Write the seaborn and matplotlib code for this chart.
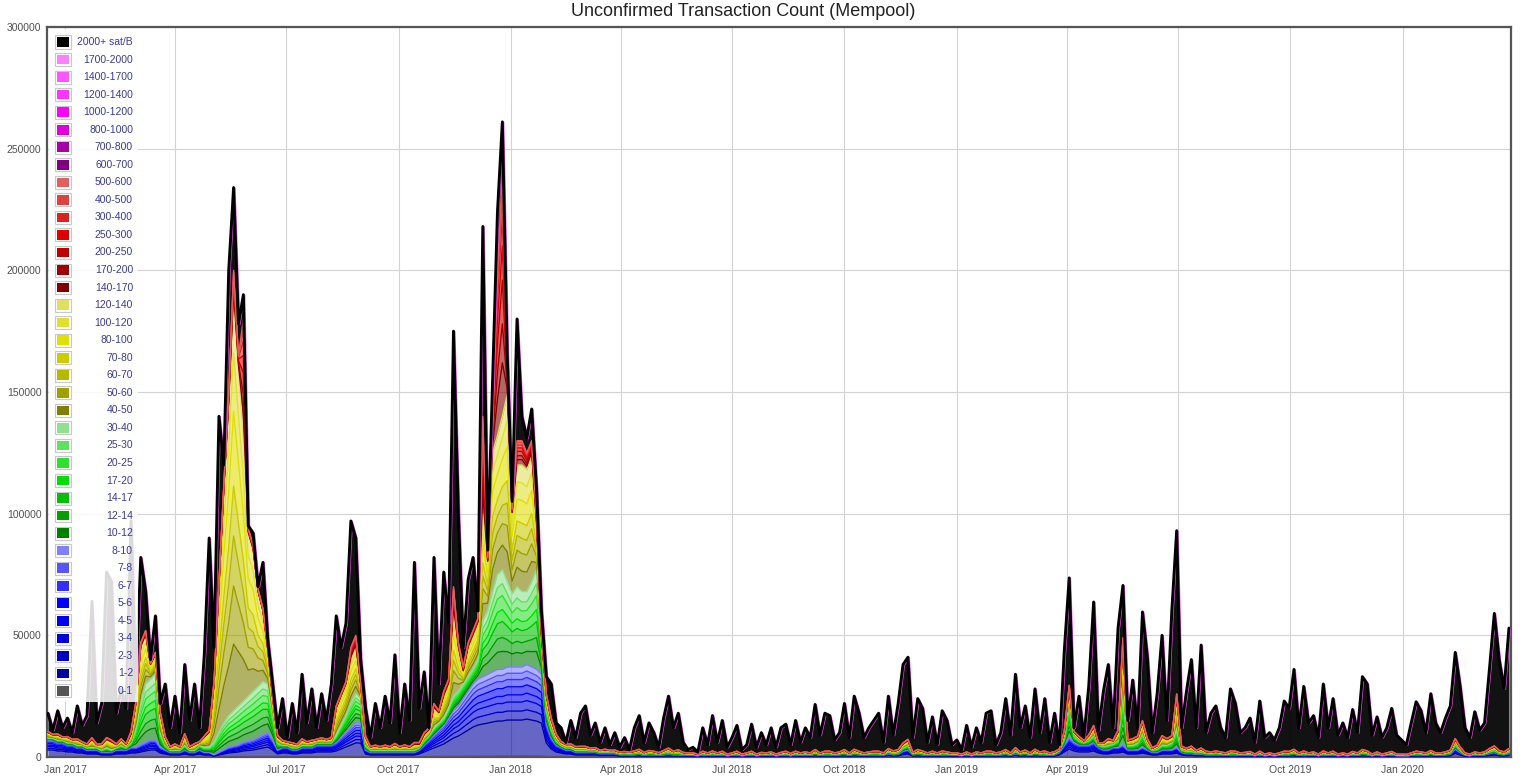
import numpy as np
import pandas as pd
import matplotlib
matplotlib.use('Agg')
import matplotlib.pyplot as plt
import matplotlib.dates as mdates
import matplotlib.transforms as mtransforms
from matplotlib.patches import Rectangle
from matplotlib.ticker import FuncFormatter
import seaborn as sns

# one sample every 4 days, values in thousands of unconfirmed transactions
dates = pd.date_range('2016-12-18', periods=300, freq='4D')

total_k = [18, 11, 19, 12, 16, 10, 21, 13, 17, 64,
           14, 22, 76, 72, 18, 28, 20, 97, 30, 82,
           68, 40, 58, 22, 30, 12, 25, 10, 38, 15,
           30, 12, 42, 90, 45, 140, 120, 200, 234, 178,
           190, 95, 92, 70, 80, 48, 30, 12, 24, 8,
           22, 10, 34, 14, 28, 12, 26, 15, 30, 58,
           45, 55, 97, 90, 40, 20, 8, 22, 12, 25,
           14, 42, 10, 30, 15, 80, 20, 35, 12, 82,
           30, 76, 55, 175, 100, 45, 73, 82, 60, 218,
           85, 154, 224, 261, 165, 105, 180, 140, 131, 143,
           110, 60, 33, 30, 14, 12, 6, 15, 8, 18,
           21, 9, 14, 6, 12, 5, 10, 4, 8, 3,
           12, 17, 6, 14, 10, 4, 16, 25, 12, 18,
           6, 3, 4, 2, 12, 5, 17, 6, 15, 4,
           8, 13, 3, 5, 13.5, 4, 10, 5, 12, 4,
           12, 13.5, 5, 15, 6, 12, 8, 21.6, 9, 18,
           17, 7, 10, 22, 8, 25, 18, 8, 12, 15,
           18, 6, 25, 9, 22, 38, 41, 8, 24, 20,
           6, 16.5, 5, 19, 15, 5, 7, 3, 13, 4,
           12, 6, 18, 19, 5, 10, 24, 9, 34, 12,
           21, 8, 28, 10, 24, 6, 18, 5, 43.6, 73.6,
           12, 25, 8, 29, 63.7, 11, 27, 38, 12, 53,
           70.5, 15, 31.6, 12, 59.6, 41, 10, 26, 50, 15,
           60, 93, 12, 27, 40, 12, 46, 10, 18, 21,
           12, 8, 28, 22, 10, 12, 16, 6, 23, 8,
           10, 7, 12, 23, 20, 36, 12, 29, 14, 17,
           8, 30, 12, 24, 9, 14, 8, 19.5, 10, 33,
           30, 9, 16.5, 8, 12, 20, 9, 7, 5, 14,
           22.7, 19, 10, 26, 14, 10, 16, 21, 43, 29,
           12, 8, 18.6, 11, 14, 36, 59, 40, 28, 53]

# thickness of the fee groups (thousands)
blue_k = [7, 7, 6, 6, 5, 5, 4, 4, 3, 3,
          3, 2, 2, 2, 3, 3, 3, 4, 4, 5,
          6, 7, 7, 4, 3, 2, 2, 2, 3, 2,
          2, 3, 2, 2, 1, 2, 3, 4, 4.5, 5,
          6, 6.5, 7, 8, 9, 10, 7, 3, 4, 4,
          3, 3, 4, 4, 4, 5, 5, 5, 5, 6,
          8, 10, 12, 14, 14, 3, 2, 2, 2, 2,
          2, 2, 2, 2, 2, 2, 3, 5, 7, 9,
          11, 13, 16, 19, 21, 24, 27, 30, 32, 33,
          34, 35, 36, 36, 37, 37, 37, 37, 38, 37,
          36, 34, 14, 8, 5, 4, 3, 3, 2, 2,
          2, 2, 2, 1.5, 1.5, 1.5, 1.5, 1, 1, 1,
          1, 1.2, 0.8, 1, 1, 0.8, 1, 1.2, 1, 1,
          0.8, 0.8, 0.8, 0.6, 1, 0.8, 1, 0.8, 1, 0.6,
          0.8, 1, 0.6, 0.8, 1, 0.6, 0.8, 0.8, 1, 0.6,
          0.8, 1, 0.6, 1, 0.8, 1, 0.8, 1.2, 0.8, 1,
          1, 0.8, 1, 1.2, 0.8, 1.2, 1, 0.8, 1, 1,
          1, 0.8, 1.5, 1, 1.2, 2.5, 3, 1, 1.2, 1,
          0.8, 1, 0.8, 1, 1, 0.8, 0.8, 0.6, 1, 0.6,
          1, 0.8, 1, 1, 0.8, 1, 1.2, 0.8, 1.5, 1,
          1.2, 0.8, 1.2, 1, 1, 0.8, 1, 2, 5, 8,
          6, 5, 5, 5, 6, 4, 3, 3, 4, 4,
          5, 3, 3, 3, 4, 3, 2, 2, 3, 3,
          3, 4, 2, 1.5, 1.5, 1.2, 1.2, 1, 1, 1,
          1, 0.8, 1, 1, 0.8, 0.8, 1, 0.6, 1, 0.6,
          0.8, 0.6, 0.8, 1, 1, 1.2, 0.8, 1, 0.8, 1,
          0.6, 1, 0.8, 1, 0.6, 0.8, 0.6, 1, 0.8, 1.2,
          1, 0.6, 1, 0.6, 0.8, 1, 0.6, 0.6, 0.5, 0.8,
          1, 1, 0.8, 1.2, 0.8, 0.8, 1, 1.2, 3.5, 2,
          0.8, 0.6, 1, 0.8, 1, 1.5, 2, 1.2, 1, 1.5]

green_k = [1, 1, 1, 1, 1, 1, 1, 1, 1, 1,
           1, 1, 2, 1, 1, 2, 1, 2, 8, 17,
           24, 25, 27, 6, 2, 1, 1, 1, 2, 1,
           1, 2, 2, 2, 5, 8, 11, 13, 14.5, 16,
           17, 18.5, 20, 21, 22, 20, 11, 3, 1, 1,
           1, 1, 1, 1, 1, 1, 1, 1, 1, 3,
           5, 7, 10, 12, 10, 2, 1, 1, 1, 1,
           1, 1, 1, 1, 1, 1, 1, 2, 2, 3,
           3, 3, 4, 6, 6, 6, 6, 6, 8, 23,
           26, 33, 39, 41, 35, 30, 33, 31, 30, 35,
           41, 15, 6, 4, 2, 1, 1, 1, 1, 1,
           1, 0.8, 0.8, 0.6, 0.8, 0.6, 0.6, 0.5, 0.6, 0.5,
           0.6, 0.8, 0.5, 0.8, 0.6, 0.5, 0.8, 1, 0.6, 0.8,
           0.5, 0.4, 0.4, 0.3, 0.6, 0.4, 0.6, 0.4, 0.6, 0.3,
           0.4, 0.6, 0.3, 0.4, 0.6, 0.3, 0.5, 0.4, 0.5, 0.3,
           0.5, 0.6, 0.4, 0.6, 0.4, 0.5, 0.4, 0.8, 0.4, 0.6,
           0.6, 0.4, 0.5, 0.8, 0.4, 0.8, 0.6, 0.4, 0.5, 0.6,
           0.6, 0.4, 0.8, 0.6, 0.8, 1.5, 2, 0.5, 0.8, 0.6,
           0.4, 0.6, 0.4, 0.6, 0.5, 0.4, 0.4, 0.3, 0.5, 0.3,
           0.5, 0.4, 0.6, 0.6, 0.4, 0.5, 0.8, 0.4, 1, 0.5,
           0.8, 0.4, 0.8, 0.5, 0.6, 0.4, 0.5, 0.8, 3, 15,
           3, 2, 1, 2, 3, 1, 1.5, 2, 1.5, 3,
           22, 2, 2, 3, 6, 2, 1, 1.5, 2, 2,
           3, 8, 1, 1, 1, 0.8, 1, 0.6, 0.5, 0.6,
           0.5, 0.4, 0.6, 0.6, 0.4, 0.5, 0.5, 0.3, 0.6, 0.3,
           0.4, 0.3, 0.4, 0.6, 0.5, 0.8, 0.4, 0.6, 0.4, 0.5,
           0.3, 0.6, 0.4, 0.6, 0.3, 0.4, 0.3, 0.5, 0.4, 0.8,
           0.6, 0.3, 0.5, 0.3, 0.4, 0.5, 0.3, 0.3, 0.3, 0.4,
           0.6, 0.5, 0.4, 0.6, 0.4, 0.4, 0.5, 0.8, 2, 1,
           0.4, 0.3, 0.5, 0.4, 0.5, 0.8, 1, 0.6, 0.5, 0.8]

yellow_k = [2, 1, 2, 1, 2, 1, 2, 1, 1, 3,
            1, 2, 3, 3, 1, 2, 1, 3, 10, 23,
            20, 6, 8, 8, 3, 1, 2, 1, 4, 1,
            2, 1, 4, 6, 24, 60, 96, 128, 171, 139,
            107, 67, 58, 39, 29, 14, 6, 2, 1.5, 1,
            1.5, 1, 2, 1, 1.5, 1, 1.5, 1, 1.5, 11,
            12, 13, 18, 19, 6, 3, 1, 1.5, 1, 1.5,
            1, 2, 1, 1.5, 1, 2, 1, 2, 2, 8,
            4, 9, 10, 35, 18, 5, 12, 14, 15, 44,
            20, 57, 57, 63, 77, 33, 50, 52, 50, 52,
            18, 0, 5, 3, 2, 1, 1, 1, 1, 1,
            1, 0.6, 0.8, 0.5, 0.6, 0.5, 0.5, 0.4, 0.5, 0.3,
            0.6, 0.8, 0.4, 0.6, 0.5, 0.3, 0.6, 1, 0.5, 0.8,
            0.4, 0.3, 0.3, 0.2, 0.5, 0.3, 0.6, 0.3, 0.5, 0.2,
            0.3, 0.5, 0.2, 0.3, 0.5, 0.2, 0.4, 0.3, 0.4, 0.2,
            0.4, 0.5, 0.3, 0.5, 0.3, 0.4, 0.3, 0.7, 0.3, 0.5,
            0.5, 0.3, 0.4, 0.7, 0.3, 0.8, 0.5, 0.3, 0.4, 0.5,
            0.5, 0.3, 0.8, 0.6, 0.7, 1.2, 1.5, 0.3, 0.7, 0.6,
            0.3, 0.5, 0.3, 0.6, 0.4, 0.3, 0.3, 0.2, 0.4, 0.2,
            0.4, 0.3, 0.5, 0.5, 0.3, 0.4, 0.7, 0.3, 0.9, 0.4,
            0.6, 0.3, 0.8, 0.4, 0.6, 0.3, 0.5, 0.3, 2, 5,
            1, 1, 0.5, 1.5, 3, 0.5, 1, 2, 1, 3,
            20, 1.5, 2, 2, 4, 2, 0.5, 1, 3, 2,
            2, 12, 1, 0.8, 1.5, 0.5, 1, 0.5, 0.4, 0.6,
            0.4, 0.3, 0.6, 0.5, 0.3, 0.4, 0.5, 0.2, 0.5, 0.2,
            0.3, 0.2, 0.3, 0.5, 0.5, 0.8, 0.3, 0.6, 0.3, 0.4,
            0.2, 0.6, 0.3, 0.5, 0.2, 0.3, 0.2, 0.5, 0.3, 0.7,
            0.6, 0.2, 0.4, 0.2, 0.3, 0.5, 0.2, 0.2, 0.2, 0.3,
            0.5, 0.4, 0.3, 0.6, 0.3, 0.3, 0.4, 0.6, 1.5, 0.8,
            0.3, 0.2, 0.4, 0.3, 0.4, 0.8, 1, 0.6, 0.4, 0.8]

red_k = [0.5, 0.3, 0.5, 0.3, 0.4, 0.3, 0.5, 0.3, 0.4, 1,
         0.3, 0.5, 1, 1, 0.4, 0.5, 0.4, 1.5, 0.5, 2,
         2, 0.5, 1, 0.4, 0.5, 0.3, 0.4, 0.3, 0.6, 0.3,
         0.5, 0.3, 0.6, 1, 1, 2, 2, 5, 10, 5,
         50, 2, 2, 1, 1, 1, 1, 1, 0.4, 0.3,
         0.4, 0.3, 0.5, 0.3, 0.4, 0.3, 0.4, 0.3, 0.5, 1,
         1, 1, 5, 5, 1, 0.5, 0.3, 0.4, 0.3, 0.4,
         0.3, 0.6, 0.3, 0.5, 0.3, 1, 1, 1, 1, 2,
         1, 2, 2, 10, 2, 2, 2, 2, 2, 40,
         2, 15, 68, 100, 11, 2, 10, 10, 7, 6,
         5, 3, 1, 1, 0.5, 0.4, 0.3, 0.4, 0.3, 0.4,
         0.4, 0.3, 0.3, 0.2, 0.3, 0.2, 0.3, 0.2, 0.2, 0.2,
         0.3, 0.4, 0.2, 0.3, 0.3, 0.2, 0.3, 0.5, 0.3, 0.4,
         0.2, 0.2, 0.2, 0.1, 0.3, 0.2, 0.3, 0.2, 0.3, 0.1,
         0.2, 0.3, 0.1, 0.2, 0.3, 0.1, 0.2, 0.2, 0.2, 0.1,
         0.2, 0.3, 0.2, 0.3, 0.2, 0.2, 0.2, 0.4, 0.2, 0.3,
         0.3, 0.2, 0.2, 0.4, 0.2, 0.4, 0.3, 0.2, 0.2, 0.3,
         0.3, 0.2, 0.4, 0.3, 0.4, 0.6, 0.8, 0.2, 0.4, 0.3,
         0.2, 0.3, 0.2, 0.3, 0.2, 0.2, 0.2, 0.1, 0.2, 0.1,
         0.2, 0.2, 0.3, 0.3, 0.2, 0.2, 0.4, 0.2, 0.5, 0.2,
         0.3, 0.2, 0.4, 0.2, 0.3, 0.2, 0.2, 0.2, 0.8, 1.5,
         0.5, 0.5, 0.3, 0.6, 1, 0.3, 0.4, 0.6, 0.4, 1,
         2, 0.5, 0.6, 0.6, 1, 0.6, 0.3, 0.4, 0.8, 0.6,
         0.8, 2, 0.4, 0.3, 0.5, 0.3, 0.5, 0.3, 0.2, 0.3,
         0.2, 0.2, 0.3, 0.3, 0.2, 0.2, 0.3, 0.1, 0.3, 0.1,
         0.2, 0.1, 0.2, 0.3, 0.3, 0.4, 0.2, 0.3, 0.2, 0.2,
         0.1, 0.3, 0.2, 0.3, 0.1, 0.2, 0.1, 0.3, 0.2, 0.4,
         0.3, 0.1, 0.2, 0.1, 0.2, 0.3, 0.1, 0.1, 0.1, 0.2,
         0.3, 0.2, 0.2, 0.3, 0.2, 0.2, 0.2, 0.3, 0.6, 0.4,
         0.2, 0.1, 0.2, 0.2, 0.2, 0.4, 0.6, 0.3, 0.2, 0.4]

# share of each fee band inside its group
blue_split = [0.01, 0.40, 0.10, 0.10, 0.08, 0.09, 0.08, 0.07, 0.07]
green_split = [0.18, 0.14, 0.16, 0.12, 0.14, 0.12, 0.14]
yellow_split = [0.16, 0.14, 0.12, 0.12, 0.18, 0.14, 0.14]
red_split = [0.22, 0.16, 0.18, 0.14, 0.12, 0.10, 0.08]
magenta_split = [0, 0, 0, 0, 0, 0, 0]

band_labels = ['0-1', '1-2', '2-3', '3-4', '4-5', '5-6', '6-7', '7-8', '8-10',
               '10-12', '12-14', '14-17', '17-20', '20-25', '25-30', '30-40',
               '40-50', '50-60', '60-70', '70-80', '80-100', '100-120', '120-140',
               '140-170', '170-200', '200-250', '250-300', '300-400', '400-500', '500-600',
               '600-700', '700-800', '800-1000', '1000-1200', '1200-1400', '1400-1700', '1700-2000',
               '2000+ sat/B']
band_colors = ['#555555', '#0000a0', '#0000c0', '#0000dd', '#0000ee', '#0000ff', '#3030ff', '#5555ff', '#8080ff',
               '#008000', '#00a000', '#00c000', '#00e000', '#30e030', '#60e060', '#90e090',
               '#808000', '#a0a000', '#b8b800', '#cccc00', '#e0e000', '#e0e030', '#e0e060',
               '#800000', '#a00000', '#c00000', '#e00000', '#e02020', '#e04040', '#e06060',
               '#800080', '#aa00aa', '#dd00dd', '#ff00ff', '#ff33ff', '#ff55ff', '#ff80ff',
               '#000000']

for arr in (total_k, blue_k, green_k, yellow_k, red_k):
    assert len(arr) == len(dates), len(arr)

total = np.array(total_k) * 1000
groups = [(np.array(blue_k), blue_split), (np.array(green_k), green_split),
          (np.array(yellow_k), yellow_split), (np.array(red_k), red_split),
          (np.zeros(len(dates)), magenta_split)]
bands = []
for g, split in groups:
    for s in split:
        bands.append(g * s * 1000)
cum = np.minimum(np.cumsum(bands, axis=0), total)
tops = list(cum) + [total]

sns.set_style('white')
plt.rcParams['font.family'] = ['Liberation Sans', 'DejaVu Sans']

fig = plt.figure(figsize=(15.36, 7.81), dpi=100)
ax = fig.add_axes([47 / 1536, 24 / 781, 1464 / 1536, 730 / 781])

lo = np.zeros(len(dates))
for j, (hi, col) in enumerate(zip(tops, band_colors)):
    a = 0.93 if j == len(tops) - 1 else 0.6
    ax.fill_between(dates, lo, hi, color=col, alpha=a, lw=0, zorder=2)
    if j < len(tops) - 1 and np.any(hi - lo > 0):
        ax.plot(dates, hi, color=col, lw=1.0, zorder=3)
    lo = hi

shift = mtransforms.offset_copy(ax.transData, fig=fig, x=1.2, y=-0.4, units='dots')
ax.plot(dates, total, color='#ee55ee', lw=1.2, transform=shift, zorder=4)
sns.lineplot(x=dates, y=total, ax=ax, color='black', linewidth=2.1, estimator=None, zorder=5)

ax.set_xlim(pd.Timestamp('2016-12-17 06:00'), pd.Timestamp('2020-03-29 16:00'))
ax.set_ylim(0, 300000)
ax.set_yticks(np.arange(0, 300001, 50000))
ax.yaxis.set_major_formatter(FuncFormatter(lambda v, p: '%d' % v))
ax.xaxis.set_major_locator(mdates.MonthLocator(bymonth=[1, 4, 7, 10]))
ax.xaxis.set_major_formatter(mdates.DateFormatter('%b %Y'))
ax.grid(True, color='#d3d3d3', lw=0.8, zorder=0)
ax.set_axisbelow(True)
ax.tick_params(axis='both', length=0, labelsize=7.5, labelcolor='#505050')
ax.tick_params(axis='y', pad=4)
ax.tick_params(axis='x', pad=6)
ax.set_xlabel('')
ax.set_ylabel('')
for sp in ax.spines.values():
    sp.set_color('#555555')
    sp.set_linewidth(1.6)

# legend drawn by hand, in figure pixel positions
W, H = 1536, 781


def fig_rect(x0, y0, w, h, **kw):
    r = Rectangle((x0 / W, 1 - (y0 + h) / H), w / W, h / H, transform=fig.transFigure, **kw)
    fig.add_artist(r)


fig_rect(49, 29, 89, 673, facecolor='white', edgecolor='none', alpha=0.86, zorder=10)
for r, (lab, col) in enumerate(zip(band_labels[::-1], band_colors[::-1])):
    cy = 42 + 17.54 * r
    fig_rect(55, cy - 6.5, 16, 13, facecolor='white', edgecolor='#c8c8c8', lw=0.8, zorder=11)
    fig_rect(57, cy - 4.8, 12, 9.6, facecolor=col, edgecolor='none', zorder=12)
    fig.text(133 / W, 1 - cy / H, lab, ha='right', va='center', fontsize=7.5,
             color='#3a3a9a', zorder=12)

fig.text(743 / W, 1 - 12 / H, 'Unconfirmed Transaction Count (Mempool)', ha='center', va='center',
         fontsize=13, color='#222222', family=['Liberation Sans Narrow', 'Liberation Sans', 'DejaVu Sans'])

fig.savefig('out.png', dpi=100, facecolor='white')
